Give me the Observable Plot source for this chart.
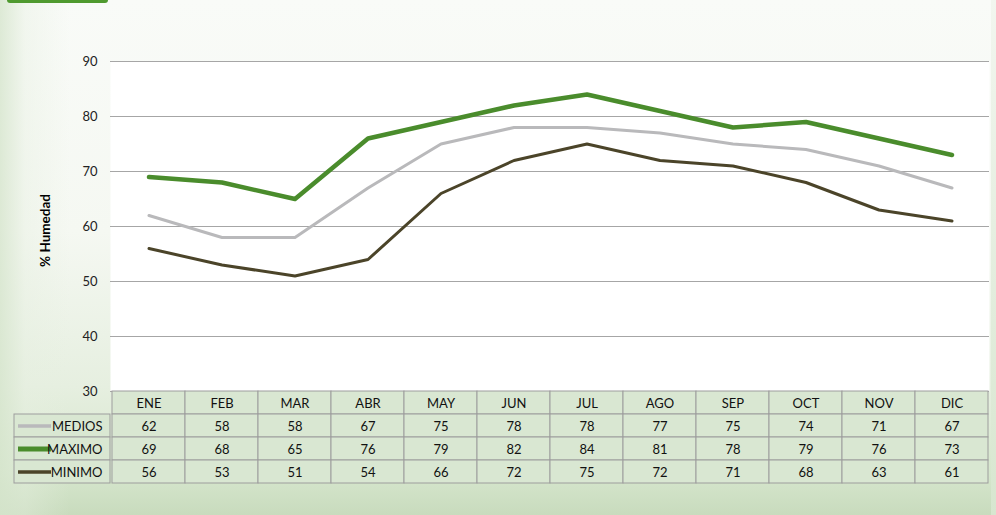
<!DOCTYPE html>
<html>
<head>
<meta charset="utf-8">
<script src="https://cdn.jsdelivr.net/npm/d3@7"></script>
<script src="https://cdn.jsdelivr.net/npm/@observablehq/plot@0.6"></script>
<style>
  html, body { margin: 0; padding: 0; }
  #wrap {
    position: relative; width: 996px; height: 515px; overflow: hidden;
    font-family: Lato, "Open Sans", sans-serif;
    background:
      linear-gradient(to right, rgba(214,229,205,0.8) 0px, rgba(230,239,224,0.4) 25px, rgba(255,255,255,0) 70px),
      linear-gradient(to bottom, #f9fbf8 0%, #f5f8f2 45%, #e6efe0 75%, #d6e6cd 92%, #c8dbbd 100%);
  }
  #tab { position: absolute; left: 7px; top: 0; width: 101px; height: 3px; background: #4f9a2f; border-radius: 0 0 3px 3px; }
  #rightedge { position: absolute; left: 991px; top: 0; width: 5px; height: 515px;
    background: linear-gradient(to bottom, #f2f6ef, #d7e6cf); }
  .layer { position: absolute; left: 0; }
  .layer svg { overflow: visible; }
</style>
</head>
<body>
<div id="wrap">
  <div id="tab"></div>
  <div id="rightedge"></div>
  <div id="chart" class="layer" style="top:0"></div>
  <div id="table" class="layer" style="top:391px"></div>
  <div id="legend" class="layer" style="top:414px; left:14px"></div>
</div>
<script>
const months = ["ENE","FEB","MAR","ABR","MAY","JUN","JUL","AGO","SEP","OCT","NOV","DIC"];
const medios = [62,58,58,67,75,78,78,77,75,74,71,67];
const maximo = [69,68,65,76,79,82,84,81,78,79,76,73];
const minimo = [56,53,51,54,66,72,75,72,71,68,63,61];
const seriesNames = ["MEDIOS","MAXIMO","MINIMO"];
const yTicks = [30,40,50,60,70,80,90];
const yLabel = "% Humedad";

const seriesValues = {MEDIOS: medios, MAXIMO: maximo, MINIMO: minimo};
const colors = {MEDIOS: "#b9b9bb", MAXIMO: "#4a8c2c", MINIMO: "#4b4429"};
const widths = {MEDIOS: 3, MAXIMO: 4.5, MINIMO: 3};

const rows = [];
for (const s of seriesNames) months.forEach((m, i) => rows.push({series: s, month: m, value: seriesValues[s][i]}));

const W = 996, ML = 110, MR = 7;
const font = "Lato, 'Open Sans', sans-serif";

// Chart
const chart = Plot.plot({
  width: W, height: 392,
  marginTop: 61, marginBottom: 1, marginLeft: ML, marginRight: MR,
  style: {background: "transparent", fontFamily: font, fontSize: "13px", color: "#222"},
  x: {type: "band", domain: months, padding: 0, axis: null},
  y: {domain: [30, 90], ticks: yTicks, tickSize: 0, tickPadding: 13, label: null},
  marks: [
    Plot.frame({fill: "white", stroke: null}),
    Plot.gridY(yTicks, {stroke: "#a6a6a6", strokeOpacity: 1, strokeWidth: 1}),
    Plot.ruleX([0], {frameAnchor: "left", stroke: "#a6a6a6"}),
    ...["MEDIOS","MINIMO","MAXIMO"].map(s =>
      Plot.line(rows.filter(d => d.series === s), {x: "month", y: "value", stroke: colors[s], strokeWidth: widths[s], strokeLinejoin: "round", strokeLinecap: "round"})
    ),
    Plot.text([yLabel], {frameAnchor: "left", textAnchor: "middle", dx: -65, dy: 4, rotate: -90, fontWeight: "bold", fontSize: 13.5, fill: "#000"})
  ]
});
document.getElementById("chart").appendChild(chart);

// Table
const tableRows = ["head", ...seriesNames];
const cells = [];
months.forEach(m => cells.push({row: "head", month: m, text: m}));
rows.forEach(d => cells.push({row: d.series, month: d.month, text: String(d.value)}));

const table = Plot.plot({
  width: W, height: 93,
  marginTop: 0, marginBottom: 1, marginLeft: ML, marginRight: MR,
  style: {background: "transparent", fontFamily: font, fontSize: "13px"},
  x: {type: "band", domain: months, padding: 0, axis: null},
  y: {type: "band", domain: tableRows, padding: 0, axis: null},
  marks: [
    Plot.cell(cells, {x: "month", y: "row", fill: "#d9e7d2", stroke: "#9d9d9d", strokeWidth: 1, inset: 0}),
    Plot.text(cells, {x: "month", y: "row", text: "text", fill: "#111", fontSize: 13, dy: 1})
  ]
});
document.getElementById("table").appendChild(table);

// Legend column
const legend = Plot.plot({
  width: 97, height: 70,
  margin: 0, marginBottom: 1, marginRight: 1,
  style: {background: "transparent", fontFamily: font, fontSize: "13px", overflow: "visible"},
  x: {domain: [0, 96], axis: null},
  y: {type: "band", domain: seriesNames, padding: 0, axis: null},
  marks: [
    Plot.cell(seriesNames, {y: d => d, fill: "#d9e7d2", stroke: "#9d9d9d", inset: 0}),
    Plot.ruleY(seriesNames, {y: d => d, x1: 4, x2: 37, stroke: d => colors[d], strokeWidth: d => widths[d] + 0.5}),
    Plot.text(seriesNames, {y: d => d, text: d => d, frameAnchor: "right", dx: -8, dy: 1, fill: "#111", fontSize: 13})
  ]
});
document.getElementById("legend").appendChild(legend);
</script>
</body>
</html>
